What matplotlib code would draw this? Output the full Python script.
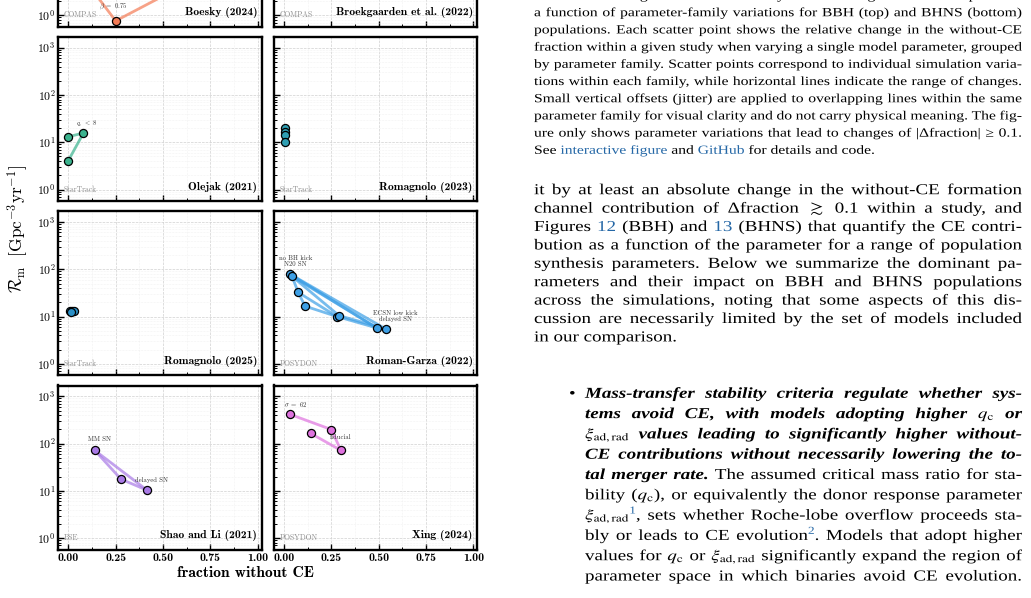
import numpy as np
import matplotlib
matplotlib.use('Agg')
import matplotlib.pyplot as plt
from matplotlib.ticker import MultipleLocator, FuncFormatter, NullFormatter
from matplotlib.textpath import TextPath, TextToPath
from matplotlib.font_manager import FontProperties
from matplotlib.patches import PathPatch
from matplotlib.transforms import Affine2D

plt.rcParams['mathtext.fontset'] = 'cm'

# ---- chart data ----
studies = ['Boesky (2024)', 'Broekgaarden et al. (2022)',
           'Olejak (2021)', 'Romagnolo (2023)',
           'Romagnolo (2025)', 'Roman-Garza (2022)',
           'Shao and Li (2021)', 'Xing (2024)']
codes = ['COMPAS', 'COMPAS', 'StarTrack', 'StarTrack',
         'StarTrack', 'POSYDON', 'BSE', 'POSYDON']
colors = ['#f47b55', '#f47b55', '#3bb38e', '#2f9fb3',
          '#2a8fc6', '#3ea0e6', '#a97ae6', '#df72df']

pts_x = [[0.25, 0.05, 0.70],
         [],
         [0.00, 0.08, 0.00],
         [0.003, 0.003, 0.003, 0.003],
         [0.010, 0.020, 0.030, 0.015],
         [0.030, 0.042, 0.075, 0.111, 0.280, 0.290, 0.490, 0.536],
         [0.139, 0.278, 0.416],
         [0.030, 0.250, 0.140, 0.300]]
pts_y = [[0.76, 8.7, 6.7],
         [],
         [13.1, 15.7, 4.1],
         [20.4, 16.3, 14.0, 10.0],
         [13.0, 13.3, 12.8, 12.4],
         [79.5, 71.0, 32.4, 16.6, 10.0, 10.5, 5.75, 5.5],
         [72.0, 17.7, 10.3],
         [417.0, 198.0, 165.0, 72.0]]
segs = [[(0, 1), (0, 2)],
        [],
        [(0, 1), (2, 1)],
        [(0, 1), (2, 3)],
        [(0, 2)],
        [(0, 6), (1, 6), (0, 7), (1, 5), (1, 2), (2, 3), (2, 4), (3, 4), (4, 6), (5, 7)],
        [(0, 1), (1, 2), (0, 2)],
        [(0, 1), (2, 3), (1, 3)]]
# (panel, text, x, y, ha)
notes = [(0, r'$\beta\ =\ 0.75$', 0.24, 1.5, 'center'),
         (2, r'$q_{\rm c}\ <\ 8$', 0.10, 24.0, 'center'),
         (5, 'no BH kick\nN20 SN', 0.06, 150.0, 'center'),
         (5, 'ECSN low kick\ndelayed SN', 0.59, 10.2, 'center'),
         (6, 'MM SN', 0.167, 123.0, 'center'),
         (6, 'delayed SN', 0.35, 17.0, 'left'),
         (7, r'$\sigma\ =\ 62$', 0.062, 655.0, 'center'),
         (7, 'fiducial', 0.296, 138.0, 'center')]
x_ticks = [0.0, 0.25, 0.5, 0.75, 1.0]

# ---- page text ----
caption = [
    'FIG. 11.— Change in the fraction of systems forming without a CE phase as',
    'a function of parameter-family variations for BBH (top) and BHNS (bottom)',
    'populations. Each scatter point shows the relative change in the without-CE',
    'fraction within a given study when varying a single model parameter, grouped',
    'by parameter family. Scatter points correspond to individual simulation varia-',
    'tions within each family, while horizontal lines indicate the range of changes.',
    'Small vertical offsets (jitter) are applied to overlapping lines within the same',
    'parameter family for visual clarity and do not carry physical meaning. The fig-',
    'ure only shows parameter variations that lead to changes of |Δfraction| ≥ 0.1.',
    'See #interactive figure# and #GitHub# for details and code.']
body = [
    'it by at least an absolute change in the without-CE formation',
    r'channel contribution of Δfraction $\gtrsim$ 0.1 within a study, and',
    'Figures #12# (BBH) and #13# (BHNS) that quantify the CE contri-',
    'bution as a function of the parameter for a range of population',
    'synthesis parameters. Below we summarize the dominant pa-',
    'rameters and their impact on BBH and BHNS populations',
    'across the simulations, noting that some aspects of this dis-',
    'cussion are necessarily limited by the set of models included',
    'in our comparison.']
bullet = [
    '*Mass-transfer stability criteria regulate whether sys-*',
    r'*tems avoid CE, with models adopting higher* $q_{\mathrm{c}}$ *or*',
    r'$\xi_{\mathrm{ad,rad}}$ *values leading to significantly higher without-*',
    '*CE contributions without necessarily lowering the to-*',
    '*tal merger rate.* The assumed critical mass ratio for sta-',
    r'bility ($q_{\mathrm{c}}$), or equivalently the donor response parameter',
    r'$\xi_{\mathrm{ad,rad}}$#^1^#, sets whether Roche-lobe overflow proceeds sta-',
    'bly or leads to CE evolution#^2^#. Models that adopt higher',
    r'values for $q_{\mathrm{c}}$ or $\xi_{\mathrm{ad,rad}}$ significantly expand the region of',
    'parameter space in which binaries avoid CE evolution.']

W, H = 1031, 598
fig = plt.figure(figsize=(W / 100, H / 100), dpi=100)
px = Affine2D().scale(1 / W, 1 / H) + fig.transFigure

# ---- small-multiple panels ----
col_x = [58.3, 274.0]
ax_w, ax_h = 203.4, 164.0
row_bottom = [26.6, 200.9, 375.2, 549.5]


def ylab(v, p):
    e = round(np.log10(v))
    return r'$\mathbf{10^{%d}}$' % e


def ylab_top(v, p):
    # the first row is cut by the page edge: only 10^0 is on the page
    return ylab(v, p) if v < 5 else ''


for i, name in enumerate(studies):
    r, c = divmod(i, 2)
    ax = fig.add_axes([col_x[c] / W, 1 - row_bottom[r] / H, ax_w / W, ax_h / H])
    ax.set_yscale('log')
    ax.set_xlim(-0.053, 1.021)
    ax.set_ylim(10 ** -0.24, 10 ** 3.228)
    ax.set_xticks(x_ticks)
    ax.xaxis.set_minor_locator(MultipleLocator(0.125))
    ax.yaxis.set_major_formatter(FuncFormatter(ylab_top if r == 0 else ylab))
    ax.yaxis.set_minor_formatter(NullFormatter())
    ax.xaxis.set_major_formatter(FuncFormatter(lambda v, p: '%.2f' % v))
    ax.tick_params(which='both', direction='in', top=False, right=False,
                   labelsize=8.5, labelfontfamily='cmb10')
    ax.tick_params(which='major', length=4, width=1.0)
    ax.tick_params(which='minor', length=2.3, width=0.7)
    ax.tick_params(axis='x', pad=2.5, labelbottom=(r == 3))
    ax.tick_params(axis='y', pad=2.0, labelleft=(c == 0))
    ax.grid(which='major', ls='--', lw=0.5, color='#d0d0d0')
    ax.grid(which='minor', ls=':', lw=0.4, color='#e8e8e8')
    ax.set_axisbelow(True)
    for s in ax.spines.values():
        s.set_linewidth(1.7)

    xs, ys, col = pts_x[i], pts_y[i], colors[i]
    for a, b in segs[i]:
        ax.plot([xs[a], xs[b]], [ys[a], ys[b]], color=col, lw=2.0, alpha=0.7,
                solid_capstyle='round', zorder=2)
    if xs:
        ax.scatter(xs, ys, s=34, c=col, edgecolors='black', linewidths=0.9, zorder=3)

    ax.text(0.977, 0.083, name, transform=ax.transAxes, ha='right', va='center',
            family='cmb10', fontsize=8.4)
    ax.text(0.028, 0.069, codes[i], transform=ax.transAxes, ha='left', va='center',
            family='cmr10', fontsize=5.5, color='#909090')

for k, txt, x, y, ha in notes:
    ax = fig.axes[k]
    ax.text(x, y, txt, ha=ha, va='center', family='cmr10', fontsize=4.8,
            color='#333333', linespacing=1.1, zorder=4)

fig.text(18 / W, 1 - 229 / H, r'$\mathcal{R}_{\rm m}\ \ [{\rm Gpc}^{-3}{\rm yr}^{-1}]$',
         rotation=90, ha='center', va='center', fontsize=12.5)
fig.text(245.5 / W, 1 - 573 / H, 'fraction without CE', ha='center', va='center',
         family='cmb10', fontsize=11.2)

# ---- justified text column, drawn as glyph paths ----
t2p = TextToPath()
blue = '#2467a6'


def fprops(bold_italic):
    if bold_italic:
        return FontProperties(family='Liberation Serif', weight='bold', style='italic',
                              size=10, math_fontfamily='stix')
    return FontProperties(family='Liberation Serif', size=10, math_fontfamily='stix')


def parse(line):
    words, cur, buf = [], [], ''
    state = {'*': False, '#': False, '^': False}
    for ch in line + ' ':
        if ch in state or ch == ' ':
            if buf:
                cur.append((buf, dict(state)))
                buf = ''
            if ch == ' ':
                if cur:
                    words.append(cur)
                cur = []
            else:
                state[ch] = not state[ch]
        else:
            buf += ch
    return words


def piece_width(s, st, emh):
    w = t2p.get_text_width_height_descent(s, fprops(st['*']), s.count('$') >= 2)[0]
    return w * emh / 10 * (0.7 if st['^'] else 1.0)


def draw_piece(s, st, x, yb, emh, emv):
    k = 0.7 if st['^'] else 1.0
    y = yb - (0.4 * emv if st['^'] else 0)
    path = TextPath((0, 0), s, size=10, prop=fprops(st['*']))
    path = path.transformed(Affine2D().scale(emh / 10 * k, emv / 10 * k).translate(x, H - y))
    fig.add_artist(PathPatch(path, facecolor=blue if st['#'] else 'black',
                             edgecolor='none', lw=0, transform=px))


def draw_line(line, x0, x1, yb, emh, emv, justify=True):
    words = parse(line)
    ww = [sum(piece_width(s, st, emh) for s, st in w) for w in words]
    gap = 0.25 * emh
    if justify and len(words) > 1:
        gap = max((x1 - x0 - sum(ww)) / (len(words) - 1), 0.15 * emh)
    x = x0
    for w, wd in zip(words, ww):
        xx = x
        for s, st in w:
            draw_piece(s, st, xx, yb, emh, emv)
            xx += piece_width(s, st, emh)
        x += wd + gap


squash = 0.8
cap_em, body_em = 15.6, 19.0
for k, line in enumerate(caption):
    yc = -4.1 + 17.2 * k
    draw_line(line, 534.0, 1022.0, yc + 0.25 * cap_em * squash, cap_em, cap_em * squash,
              justify=(k < len(caption) - 1))
for k, line in enumerate(body):
    yc = 190.4 + 18.4 * k
    draw_line(line, 534.0, 1022.0, yc + 0.25 * body_em * squash, body_em, body_em * squash,
              justify=(k < len(body) - 1))
draw_piece('•', {'*': False, '#': False, '^': False}, 569.0,
           394.0 + 0.25 * body_em * squash, body_em, body_em * squash)
for k, line in enumerate(bullet):
    yc = 394.0 + 20.3 * k
    draw_line(line, 585.0, 1022.0, yc + 0.25 * body_em * squash, body_em, body_em * squash)

fig.savefig('out.png', dpi=100)
